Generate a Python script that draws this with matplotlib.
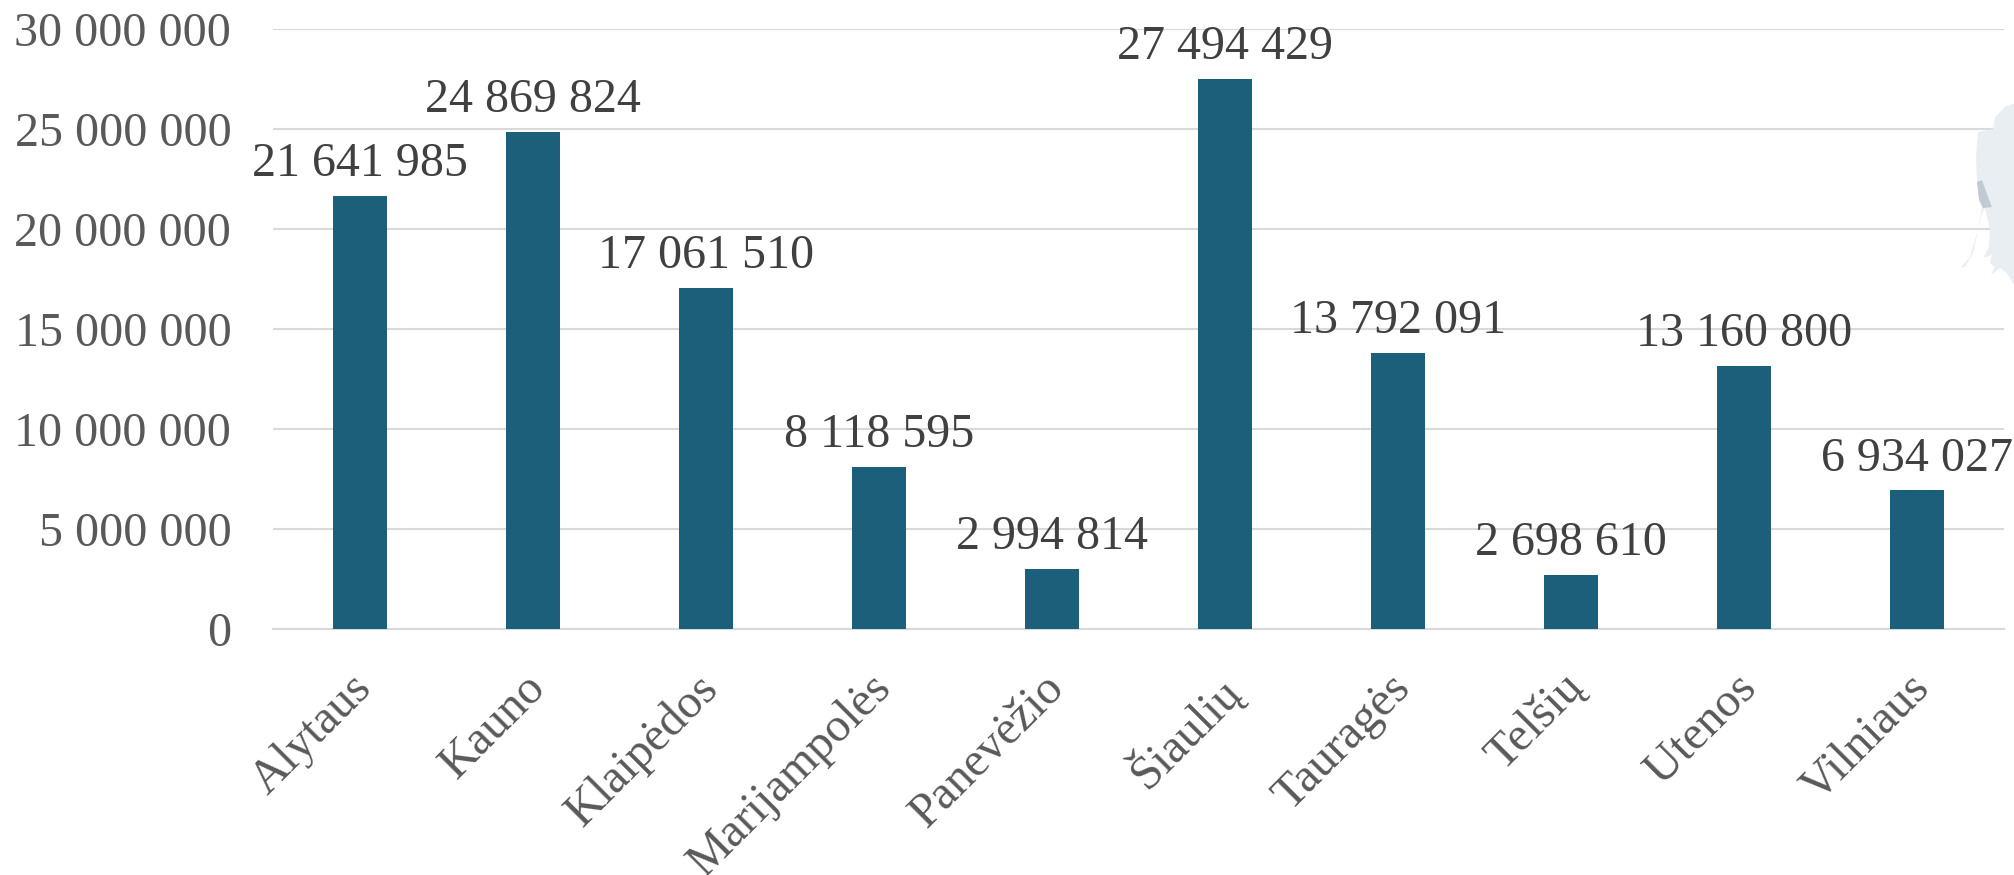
import matplotlib
matplotlib.use("Agg")
import matplotlib.pyplot as plt
from matplotlib.patches import Polygon
from matplotlib.transforms import Affine2D

regions = ["Alytaus", "Kauno", "Klaipėdos", "Marijampolės", "Panevėžio",
           "Šiaulių", "Tauragės", "Telšių", "Utenos", "Vilniaus"]
values = [21641985, 24869824, 17061510, 8118595, 2994814,
          27494429, 13792091, 2698610, 13160800, 6934027]
yticks = [0, 5000000, 10000000, 15000000, 20000000, 25000000, 30000000]

# faint map fragment behind the chart, pixel outline of the reference
map_land = [(2015, 103), (2005, 107), (1995, 117), (1993, 129), (1978, 132),
            (1976, 157), (1977, 182), (1982, 207), (1978, 230), (1970, 257),
            (1961, 267), (1965, 267), (1973, 253), (1982, 213), (1985, 208),
            (1990, 230), (1989, 247), (1983, 258), (1992, 255), (1990, 263),
            (1995, 267), (1991, 275), (2000, 268), (2007, 273), (2015, 287)]
map_dark = [(1977, 182), (1982, 180), (1988, 197), (1992, 207), (1983, 208),
            (1979, 200)]


def spaced(v):
    return f"{v:,}".replace(",", " ")


plt.rcParams["font.family"] = ["Liberation Serif", "DejaVu Serif"]

W, H = 2015, 875
FS = 34.6
fig = plt.figure(figsize=(W / 100, H / 100), dpi=100)
ax = fig.add_axes([273 / W, 1 - 629 / H, (2004 - 273) / W, 600 / H])
ax.patch.set_visible(False)

# pixel coordinates, y down
px = Affine2D().scale(1, -1).translate(0, H)
fig.patches.append(Polygon(map_land, closed=True, fc="#e9eef2", ec="none",
                           transform=px, figure=fig))
fig.patches.append(Polygon(map_dark, closed=True, fc="#bfcbd0", ec="none",
                           transform=px, figure=fig))

ax.set_xlim(-0.5, 9.5)
ax.set_ylim(0, 30000000)
ax.bar(range(len(values)), values, width=0.312, color="#1b5f7a", zorder=3)

ax.set_yticks(yticks)
ax.set_yticklabels([spaced(v) for v in yticks], fontsize=FS, color="#595959")
ax.grid(axis="y", color="#d9d9d9", lw=1.5, zorder=0)
ax.set_axisbelow(True)
for s in ["top", "right", "left"]:
    ax.spines[s].set_visible(False)
ax.spines["bottom"].set_color("#d9d9d9")
ax.spines["bottom"].set_linewidth(1.5)
ax.tick_params(axis="both", length=0)
ax.tick_params(axis="y", pad=30)

ax.set_xticks(range(len(regions)))
ax.set_xticklabels(regions, fontsize=FS, color="#595959", rotation=45,
                   ha="right", rotation_mode="anchor")
ax.tick_params(axis="x", pad=26.4)
# Excel puts the rotated label end a little left of where mpl would
for lab in ax.get_xticklabels():
    lab.set_transform(lab.get_transform() + Affine2D().translate(-10, 0))

for i, v in enumerate(values):
    ax.annotate(spaced(v), (i, v), xytext=(0, 7), textcoords="offset points",
                ha="center", va="bottom", fontsize=FS, color="#404040",
                annotation_clip=False, zorder=5)

fig.savefig("out.png", dpi=100)
